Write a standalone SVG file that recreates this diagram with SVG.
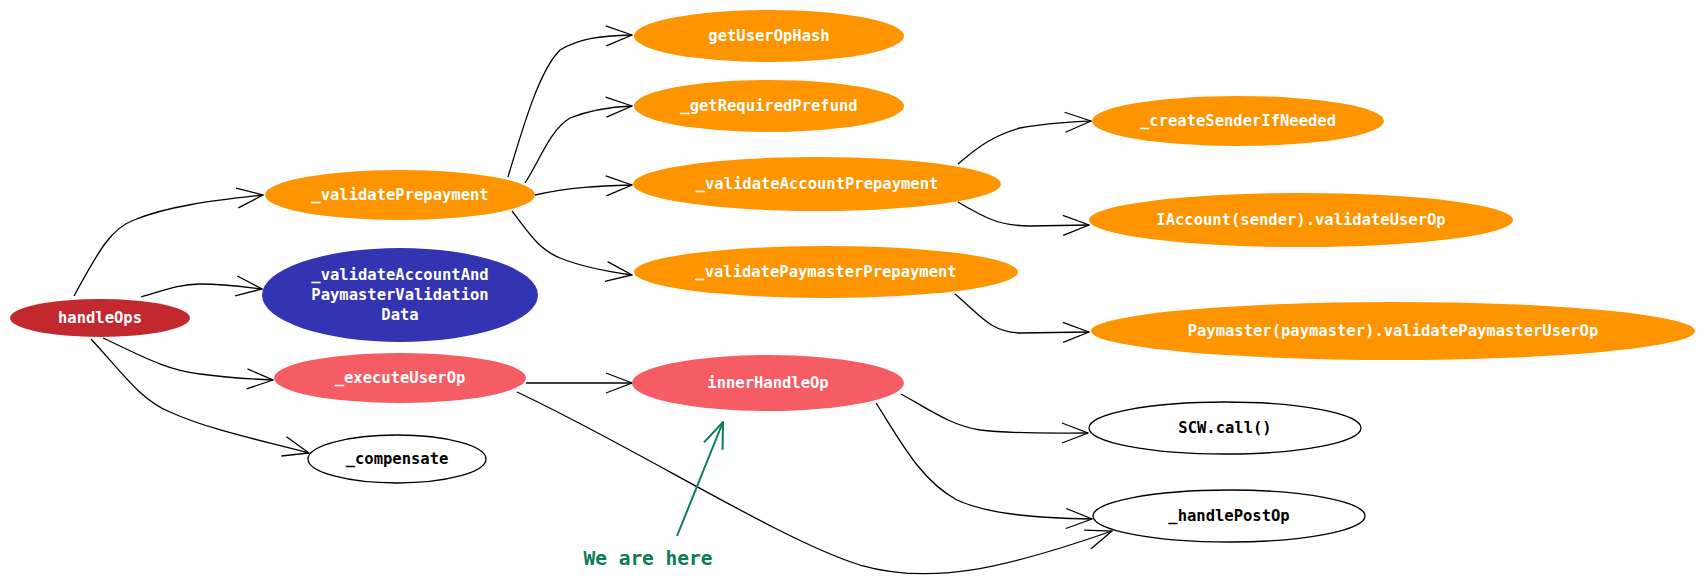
<svg xmlns="http://www.w3.org/2000/svg" width="1706" height="582" viewBox="0 0 1706 582">
<style>
.lbl{font-family:"DejaVu Sans Mono","Liberation Mono",monospace;font-size:15.5px;font-weight:bold;text-anchor:middle;dominant-baseline:central}
.w{fill:#ffffff}
.k{fill:#000000}
.orange{fill:#fd9400}
.red{fill:#c1292f}
.blue{fill:#3334b2}
.salmon{fill:#f65c63}
.plain{fill:#ffffff;stroke:#000;stroke-width:1.3}
.edge{fill:none;stroke:#000;stroke-width:1.3;marker-end:url(#arr)}
</style>
<defs>
<marker id="arr" viewBox="0 -11 28 22" refX="27" refY="0" markerWidth="28" markerHeight="22" markerUnits="userSpaceOnUse" orient="auto">
<path d="M1,-10 L27,0 L1,10" fill="none" stroke="#000" stroke-width="1.3"/>
</marker>
<marker id="garr" viewBox="0 -11 28 22" refX="27" refY="0" markerWidth="28" markerHeight="22" markerUnits="userSpaceOnUse" orient="auto">
<path d="M1,-10 L27,0 L1,10" fill="none" stroke="#0b7c55" stroke-width="2"/>
</marker>
</defs>
<rect width="1706" height="582" fill="#ffffff"/>
<g id="connectors">
<path class="edge" d="M74,296 C100,248 112,228 134,220 C170,205 220,200 263,195"/>
<path class="edge" d="M141,297 C165,290 180,284 200,284 C225,284 245,287 262,289"/>
<path class="edge" d="M103,338 C140,355 165,370 200,374 C230,378 250,379 273,380"/>
<path class="edge" d="M91,339 C120,370 140,400 170,412 C210,430 260,440 309,453"/>
<path class="edge" d="M508,177 C525,120 540,70 560,50 C580,38 600,36 632,35"/>
<path class="edge" d="M525,183 C540,160 550,130 570,118 C590,110 610,107 632,106"/>
<path class="edge" d="M535,195 C570,187 600,186 632,185"/>
<path class="edge" d="M512,211 C530,235 540,250 560,258 C585,268 610,272 632,275"/>
<path class="edge" d="M958,164 C980,145 995,135 1020,128 C1045,123 1070,122 1091,121"/>
<path class="edge" d="M958,202 C985,218 1000,226 1030,226 L1089,225"/>
<path class="edge" d="M955,294 C980,315 990,332 1020,333 L1089,332"/>
<path class="edge" d="M526,383 L632,383"/>
<path class="edge" d="M517,392 C640,450 780,540 860,565 C930,585 1000,570 1112,531"/>
<path class="edge" d="M901,394 C930,410 950,425 980,430 C1010,434 1050,433 1088,433"/>
<path class="edge" d="M876,403 C900,440 920,480 957,500 C990,515 1040,518 1092,519"/>
<path d="M677,536 L723,422" fill="none" stroke="#0b7c55" stroke-width="2" marker-end="url(#garr)"/>
</g>
<g id="handleOps"><ellipse class="red" cx="100" cy="318" rx="90" ry="19"/><text class="lbl w" x="100" y="318">handleOps</text></g>
<g id="validatePrepayment"><ellipse class="orange" cx="400" cy="195" rx="135" ry="25"/><text class="lbl w" x="400" y="195">_validatePrepayment</text></g>
<g id="validateAccountAndPaymasterValidationData"><ellipse class="blue" cx="400" cy="295" rx="138" ry="47"/><text class="lbl w" x="400" y="275">_validateAccountAnd</text><text class="lbl w" x="400" y="295">PaymasterValidation</text><text class="lbl w" x="400" y="315">Data</text></g>
<g id="executeUserOp"><ellipse class="salmon" cx="400" cy="378" rx="126" ry="25"/><text class="lbl w" x="400" y="378">_executeUserOp</text></g>
<g id="compensate"><ellipse class="plain" cx="397" cy="459" rx="89" ry="24"/><text class="lbl k" x="397" y="459">_compensate</text></g>
<g id="getUserOpHash"><ellipse class="orange" cx="769" cy="36" rx="135" ry="26"/><text class="lbl w" x="769" y="36">getUserOpHash</text></g>
<g id="getRequiredPrefund"><ellipse class="orange" cx="769" cy="106" rx="135" ry="26"/><text class="lbl w" x="769" y="106">_getRequiredPrefund</text></g>
<g id="validateAccountPrepayment"><ellipse class="orange" cx="817" cy="184" rx="184" ry="27"/><text class="lbl w" x="817" y="184">_validateAccountPrepayment</text></g>
<g id="validatePaymasterPrepayment"><ellipse class="orange" cx="826" cy="272" rx="192" ry="26"/><text class="lbl w" x="826" y="272">_validatePaymasterPrepayment</text></g>
<g id="createSenderIfNeeded"><ellipse class="orange" cx="1238" cy="121" rx="146" ry="25"/><text class="lbl w" x="1238" y="121">_createSenderIfNeeded</text></g>
<g id="IAccountValidateUserOp"><ellipse class="orange" cx="1301" cy="220" rx="212" ry="27"/><text class="lbl w" x="1301" y="220">IAccount(sender).validateUserOp</text></g>
<g id="PaymasterValidatePaymasterUserOp"><ellipse class="orange" cx="1393" cy="331" rx="302" ry="29"/><text class="lbl w" x="1393" y="331">Paymaster(paymaster).validatePaymasterUserOp</text></g>
<g id="innerHandleOp"><ellipse class="salmon" cx="768" cy="383" rx="136" ry="28"/><text class="lbl w" x="768" y="383">innerHandleOp</text></g>
<g id="SCWcall"><ellipse class="plain" cx="1225" cy="428" rx="136" ry="26"/><text class="lbl k" x="1225" y="428">SCW.call()</text></g>
<g id="handlePostOp"><ellipse class="plain" cx="1229" cy="516" rx="136" ry="26"/><text class="lbl k" x="1229" y="516">_handlePostOp</text></g>
<g id="weAreHere"><text x="648" y="558" font-family="DejaVu Sans Mono, Liberation Mono, monospace" font-size="19.5" font-weight="bold" fill="#0b7c55" text-anchor="middle" dominant-baseline="central">We are here</text></g>
</svg>
